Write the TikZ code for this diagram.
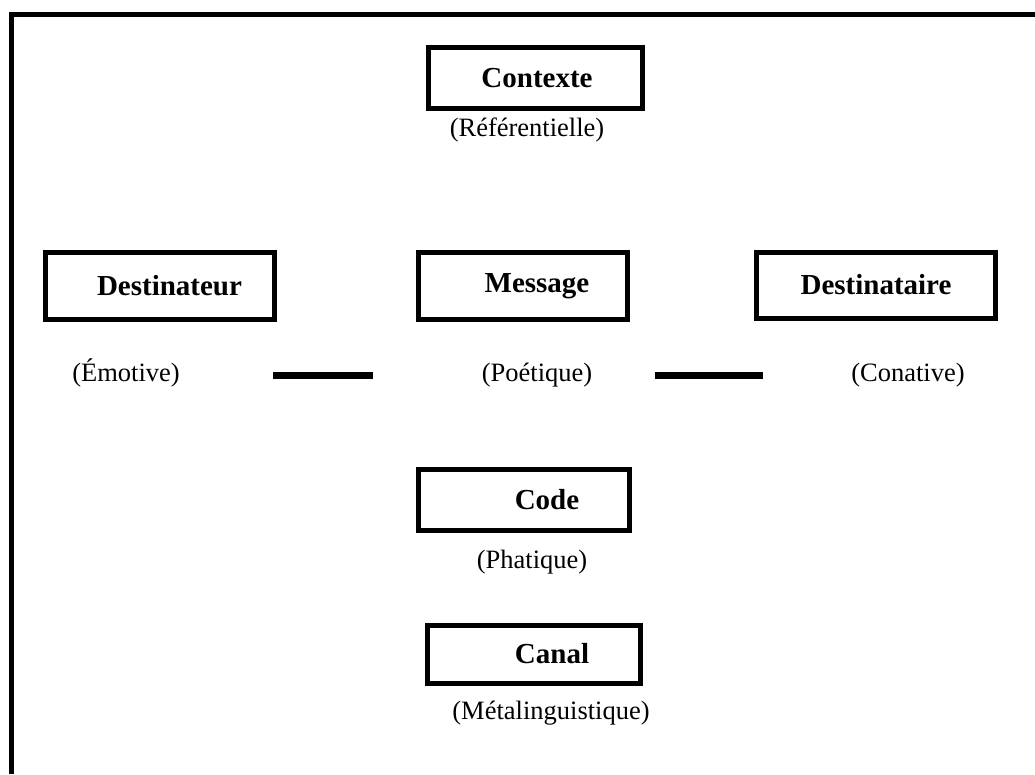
\documentclass[tikz,border=0pt]{standalone}
\usepackage{fontspec}
\setmainfont{Liberation Serif}
\begin{document}
\begin{tikzpicture}[x=1pt,y=-1pt,
  box/.style={draw=black,line width=5pt,rectangle,inner sep=0pt,
    font=\fontsize{29}{33}\selectfont\bfseries},
  fn/.style={inner sep=0pt,font=\fontsize{26.5}{30}\selectfont},
  bar/.style={line width=7pt,black},
  frame/.style={line width=5pt,black}]
\useasboundingbox (0,0) rectangle (1035,774);
% frame
\coordinate (fbl) at (11,774);
\coordinate (ftl) at (11,14);
\coordinate (ftr) at (1035,14);
\draw[frame] (fbl) -- (ftl) -- (ftr);
% boxes
\node[box,minimum width=214pt,minimum height=61pt] (contexte) at (535.5,78) {\hspace*{3pt}Contexte};
\node[box,minimum width=229pt,minimum height=67pt] (destinateur) at (159.5,286) {\hspace*{20pt}Destinateur};
\node[box,minimum width=209pt,minimum height=67pt] (message) at (523,286) {\hspace*{28pt}Message};
\node[box,minimum width=239pt,minimum height=66pt] (destinataire) at (876,285) {Destinataire};
\node[box,minimum width=211pt,minimum height=61pt] (code) at (524,499.5) {\hspace*{46pt}Code};
\node[box,minimum width=213pt,minimum height=58pt] (canal) at (534,654) {\hspace*{36pt}Canal};
% function labels
\node[fn] (referentielle) at (527,130) {(Référentielle)};
\node[fn] (emotive) at (126,373) {(Émotive)};
\node[fn] (poetique) at (537,375) {(Poétique)};
\node[fn] (conative) at (908,375) {(Conative)};
\node[fn] (phatique) at (532,562) {(Phatique)};
\node[fn] (metaling) at (551,713) {(Métalinguistique)};
% bars
\coordinate (b1a) at (273,375);
\coordinate (b1b) at (373,375);
\coordinate (b2a) at (655,375);
\coordinate (b2b) at (763,375);
\draw[bar] (b1a) -- (b1b);
\draw[bar] (b2a) -- (b2b);
\end{tikzpicture}
\end{document}
